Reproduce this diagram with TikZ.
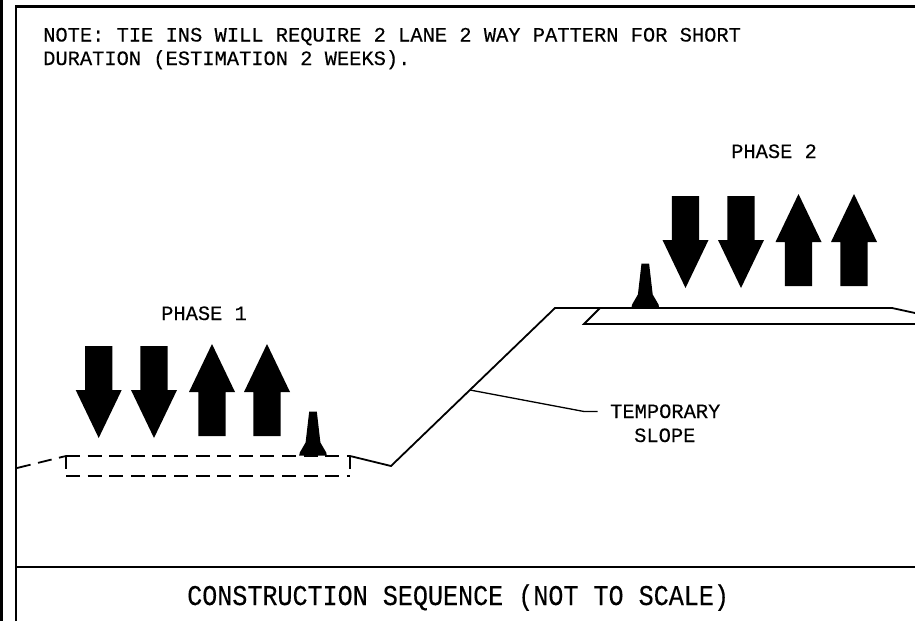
\documentclass[tikz,border=0pt]{standalone}
\usepackage{fontspec}
\usepackage{graphicx}
\setmainfont{Liberation Mono}[FakeBold=0.25]
\newcommand{\smalltxt}{\fontsize{20.4}{24}\selectfont}
\newcommand{\bigtxt}{\fontsize{28.6}{32}\selectfont}
\tikzset{
  line/.style={draw=black,line width=1.8pt,line join=miter},
  dashline/.style={line,dash pattern=on 14pt off 7.6pt},
  label/.style={inner sep=0pt,anchor=base west,font=\smalltxt},
  downarrow/.pic={\fill (-13.7,-46) -- (13.7,-46) -- (13.7,-2) -- (23,-2) -- (0,46) -- (-23,-2) -- (-13.7,-2) -- cycle;},
  uparrow/.pic={\fill (-13.7,46) -- (13.7,46) -- (13.7,2) -- (23,2) -- (0,-46) -- (-23,2) -- (-13.7,2) -- cycle;},
  conepic/.pic={\fill (-13.8,0) -- (-13.2,-3) -- (-7.4,-13) -- (-3.8,-44) -- (3.8,-44) -- (7.4,-13) -- (13.2,-3) -- (13.8,0) -- cycle;}
}
\begin{document}
\begin{tikzpicture}[x=1pt,y=-1pt]
\useasboundingbox (0,0) rectangle (915,621);
\fill[white] (0,0) rectangle (915,621);
% frame
\fill[black] (0,0) rectangle (3.4,621);
\coordinate (fTL) at (16,6.5);
\coordinate (fTR) at (915,6.5);
\coordinate (fBL) at (16,621);
\coordinate (sepL) at (16,567);
\coordinate (sepR) at (915,567);
\draw[line,line width=2.2pt] (fBL) -- (fTL) -- (fTR);
\draw[line,line width=2.2pt] (sepL) -- (sepR);
% texts
\node[label] (note1) at (43,41.5) {NOTE: TIE INS WILL REQUIRE 2 LANE 2 WAY PATTERN FOR SHORT};
\node[label] (note2) at (43,65) {DURATION (ESTIMATION 2 WEEKS).};
\node[label] (ph2) at (731,158) {PHASE 2};
\node[label] (ph1) at (161,320) {PHASE 1};
\node[label] (tmp1) at (610,418) {TEMPORARY};
\node[label] (tmp2) at (634,442) {SLOPE};
\node[inner sep=0pt,anchor=base west,font=\bigtxt] (title) at (187,605) {\scalebox{0.877}[1]{CONSTRUCTION SEQUENCE (NOT TO SCALE)}};
% arrows phase 1
\pic at (98.7,392) {downarrow};
\pic at (154,392) {downarrow};
\pic at (212,390) {uparrow};
\pic at (267,390) {uparrow};
% arrows phase 2
\pic at (685.5,242) {downarrow};
\pic at (741,242) {downarrow};
\pic at (798.5,240) {uparrow};
\pic at (854,240) {uparrow};
% cones
\pic at (313,455.5) {conepic};
\pic at (645.3,307.5) {conepic};
% ground
\coordinate (a) at (17,468);
\coordinate (b) at (66,456);
\coordinate (c) at (350,456);
\coordinate (d) at (391,466);
\coordinate (e) at (555,308);
\coordinate (f) at (892,308);
\coordinate (g) at (915,313);
\coordinate (h) at (600,308);
\coordinate (i) at (584,324);
\coordinate (j) at (915,324);
\coordinate (bl) at (66,476);
\coordinate (br) at (350,476);
\draw[dashline] (a) -- (b);
\draw[dashline] (b) -- (c);
\draw[dashline] (bl) -- (br);
\draw[line] (b) -- (66,469);
\draw[line] (c) -- (350,469);
\draw[line] (c) -- (d) -- (e) -- (f) -- (g);
\draw[line] (h) -- (i) -- (j);
% leader
\coordinate (l1) at (470,390);
\coordinate (l2) at (584,411.5);
\coordinate (l3) at (597.5,411.5);
\draw[line,line width=1.3pt] (l1) -- (l2) -- (l3);
\end{tikzpicture}
\end{document}
